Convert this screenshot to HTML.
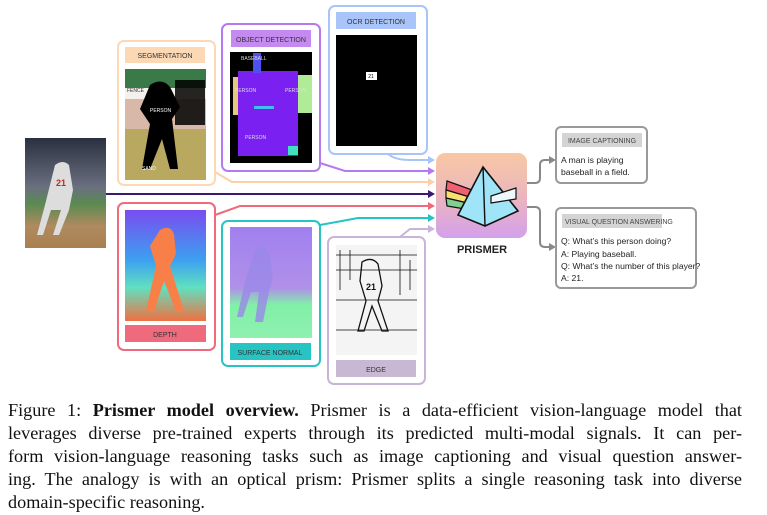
<!DOCTYPE html>
<html><head><meta charset="utf-8"><style>
body{margin:0;width:767px;height:515px;background:#fff;overflow:hidden;position:relative;font-family:"Liberation Sans",sans-serif}
.cap{position:absolute;left:8px;top:399px;width:734px;font-family:"Liberation Serif",serif;font-size:18.2px;line-height:23px;color:#111}
.cap div{text-align:justify;text-align-last:justify;white-space:nowrap}
.cap div.last{text-align-last:left}
</style></head><body>
<svg width="767" height="400" style="position:absolute;left:0;top:0" font-family="Liberation Sans, sans-serif">
<defs>
<linearGradient id="pg" x1="0" y1="0" x2="0" y2="1"><stop offset="0" stop-color="#f8c8a4"/><stop offset="0.55" stop-color="#eab4c0"/><stop offset="1" stop-color="#d4a0ec"/></linearGradient>
<linearGradient id="dg" x1="0" y1="0" x2="0" y2="1"><stop offset="0" stop-color="#7a4cf0"/><stop offset="0.45" stop-color="#3ca0f0"/><stop offset="0.7" stop-color="#60e0c0"/><stop offset="1" stop-color="#f07040"/></linearGradient>
<linearGradient id="ng" x1="0" y1="0" x2="0" y2="1"><stop offset="0" stop-color="#a080f0"/><stop offset="0.55" stop-color="#b090e8"/><stop offset="0.7" stop-color="#80f0a8"/><stop offset="1" stop-color="#90f0b0"/></linearGradient>
<linearGradient id="bg" x1="0" y1="0" x2="0" y2="1"><stop offset="0" stop-color="#2a3040"/><stop offset="0.45" stop-color="#6a7080"/><stop offset="0.6" stop-color="#5a8a50"/><stop offset="0.8" stop-color="#b08a60"/><stop offset="1" stop-color="#a88050"/></linearGradient>
</defs>
<g fill="none" stroke-width="2">
<path d="M388 154 Q395 160 410 160 L428 160" stroke="#a8c4f8"/>
<path d="M320 163 L345 171 L428 171" stroke="#b57af0"/>
<path d="M215 172 L232 182 L428 182" stroke="#fcd0a8"/>
<path d="M106 194 L428 194" stroke="#3b1a6e"/>
<path d="M215 215 L240 206 L428 206" stroke="#f06a7e"/>
<path d="M320 225 L358 218 L428 218" stroke="#28c4c4"/>
<path d="M400 237 L410 229 L428 229" stroke="#c8b4d8"/>
<path d="M527 183 L535 183 Q540 183 540 178 L540 165 Q540 160 545 160 L550 160" stroke="#888"/>
<path d="M527 207 L535 207 Q540 207 540 212 L540 242 Q540 247 545 247 L550 247" stroke="#888"/>
</g>
<g>
<polygon points="428,156 435,160 428,164" fill="#a8c4f8"/>
<polygon points="428,167 435,171 428,175" fill="#b57af0"/>
<polygon points="428,178 435,182 428,186" fill="#fcd0a8"/>
<polygon points="428,190 435,194 428,198" fill="#3b1a6e"/>
<polygon points="428,202 435,206 428,210" fill="#f06a7e"/>
<polygon points="428,214 435,218 428,222" fill="#28c4c4"/>
<polygon points="428,225 435,229 428,233" fill="#c8b4d8"/>
<polygon points="549,156 556,160 549,164" fill="#888"/>
<polygon points="549,243 556,247 549,251" fill="#888"/>
</g>
<rect x="25" y="138" width="81" height="110" fill="url(#bg)"/>
<path d="M55 165 q8-6 14 0 l4 25 l-4 20 l-10 25 l-6 0 l8-25 l-10 0 l-8 25 l-6 0 l8-30 z" fill="#ddd"/>
<text x="56" y="186" font-size="9" font-weight="bold" fill="#c22">21</text>
<rect x="118" y="41" width="97" height="144" rx="6" fill="#fff" stroke="#fcd8b4" stroke-width="2"/>
<rect x="125" y="47" width="80" height="16" fill="#fcd8b4"/>
<text x="165" y="58" font-size="7" text-anchor="middle" fill="#333">SEGMENTATION</text>
<rect x="125" y="69" width="81" height="111" fill="#b8a860"/>
<rect x="125" y="69" width="81" height="30" fill="#3a7a48"/>
<rect x="125" y="88" width="81" height="12" fill="#f4f0ec"/>
<rect x="125" y="99" width="81" height="30" fill="#d8b8a8"/>
<path d="M150 85 q12-8 20 2 l10 20 l-8 12 l6 50 l-8 0 l-8-30 l-12 30 l-8 0 l8-45 l-10-15 z" fill="#000"/>
<path d="M175 80 h30 v45 h-30z" fill="#000" opacity=".85"/>
<text x="150" y="112" font-size="5" fill="#fff">PERSON</text>
<text x="127" y="92" font-size="5" fill="#333">FENCE</text>
<text x="142" y="170" font-size="5" fill="#fff">SAND</text>
<rect x="222" y="24" width="98" height="147" rx="6" fill="#fff" stroke="#b57af0" stroke-width="2"/>
<rect x="231" y="30" width="80" height="17" fill="#c48af0"/>
<text x="271" y="42" font-size="7" text-anchor="middle" fill="#333">OBJECT DETECTION</text>
<rect x="230" y="52" width="82" height="111" fill="#000"/>
<rect x="238" y="71" width="60" height="85" fill="#7a20f0"/>
<rect x="298" y="75" width="14" height="38" fill="#b0ec98"/>
<rect x="233" y="77" width="5" height="38" fill="#e8c878"/>
<rect x="253" y="53" width="8" height="20" fill="#5050f0"/>
<rect x="254" y="106" width="20" height="3" fill="#40c0f0"/>
<rect x="288" y="146" width="10" height="9" fill="#40e0c0"/>
<text x="241" y="60" font-size="5" fill="#ddd">BASEBALL</text>
<text x="235" y="92" font-size="5" fill="#ddd">PERSON</text>
<text x="285" y="92" font-size="5" fill="#ddd">PERSON</text>
<text x="245" y="139" font-size="5" fill="#ddd">PERSON</text>
<rect x="329" y="6" width="98" height="148" rx="6" fill="#fff" stroke="#a8c4f8" stroke-width="2"/>
<rect x="336" y="12" width="80" height="17" fill="#a8c4f8"/>
<text x="376" y="24" font-size="7" text-anchor="middle" fill="#333">OCR DETECTION</text>
<rect x="336" y="35" width="81" height="111" fill="#000"/>
<rect x="366" y="72" width="11" height="8" fill="#fff"/>
<text x="371" y="78" font-size="5" text-anchor="middle">21</text>
<rect x="118" y="203" width="97" height="147" rx="6" fill="#fff" stroke="#f06a7e" stroke-width="2"/>
<rect x="125" y="210" width="81" height="111" fill="url(#dg)"/>
<path d="M160 230 q10-6 14 4 l2 20 l-6 12 l14 45 l-8 0 l-12-30 l-10 30 l-8 0 l10-45 l-6-20 z" fill="#f88048"/>
<rect x="125" y="325" width="81" height="17" fill="#f06a7e"/>
<text x="165" y="337" font-size="7" text-anchor="middle" fill="#333">DEPTH</text>
<rect x="222" y="221" width="98" height="145" rx="6" fill="#fff" stroke="#28c4c4" stroke-width="2"/>
<rect x="230" y="227" width="82" height="111" fill="url(#ng)"/>
<path d="M255 250 q8-6 14 2 l4 25 l-4 15 l-6 30 l-8 0 l4-30 l-8 0 l-8 25 l-6 0 l8-35 z" fill="#9a88e8" opacity=".8"/>
<rect x="230" y="343" width="81" height="17" fill="#28c4c4"/>
<text x="270" y="355" font-size="7" text-anchor="middle" fill="#333">SURFACE NORMAL</text>
<rect x="328" y="237" width="97" height="147" rx="6" fill="#fff" stroke="#c8b4d8" stroke-width="2"/>
<rect x="336" y="245" width="81" height="110" fill="#f4f4f4"/>
<g stroke="#111" stroke-width="0.8" fill="none">
<path d="M336 255 h81 M336 270 h81 M336 300 h81 M336 330 h81 M340 250 v40 M350 250 v30 M400 250 v45 M410 260 v30"/>
<path d="M362 262 q10-6 16 2 l4 22 l-4 15 l10 30 l-6 0 l-10-25 l-8 25 l-6 0 l8-30 l-6-20 z" stroke-width="1.3"/>
</g>
<text x="366" y="290" font-size="9" font-weight="bold" fill="#111">21</text>
<rect x="336" y="360" width="80" height="17" fill="#c8b8d4"/>
<text x="376" y="372" font-size="7" text-anchor="middle" fill="#333">EDGE</text>
<rect x="436" y="153" width="91" height="85" rx="9" fill="url(#pg)"/>
<polygon points="447,181 475,191 473,198 446,190" fill="#f06070" stroke="#111" stroke-width="1.2"/>
<polygon points="446,190 473,198 472,204 446,198" fill="#f8e070" stroke="#111" stroke-width="1.2"/>
<polygon points="446,198 472,204 471,210 447,206" fill="#80d090" stroke="#111" stroke-width="1.2"/>
<polygon points="483,167 458,215 485,226 518,211" fill="#a0e4f8" stroke="#111" stroke-width="1.6"/>
<line x1="483" y1="167" x2="485" y2="226" stroke="#111" stroke-width="1.4"/>
<polygon points="491,196 516,188 516,199 491,203" fill="#eef8fc" stroke="#111" stroke-width="1.2"/>
<text x="482" y="253" font-size="11" font-weight="bold" text-anchor="middle" fill="#222">PRISMER</text>
<rect x="556" y="127" width="91" height="56" rx="5" fill="#fff" stroke="#999" stroke-width="2"/>
<rect x="562" y="133" width="80" height="14" fill="#d4d4d4"/>
<text x="602" y="143" font-size="7" text-anchor="middle" fill="#444">IMAGE CAPTIONING</text>
<text x="561" y="163" font-size="8.6" fill="#222">A man is playing</text>
<text x="561" y="175" font-size="8.6" fill="#222">baseball in a field.</text>
<rect x="556" y="208" width="140" height="80" rx="5" fill="#fff" stroke="#999" stroke-width="2"/>
<rect x="562" y="214" width="100" height="14" fill="#d4d4d4"/>
<text x="565" y="224" font-size="7" fill="#444">VISUAL QUESTION ANSWERING</text>
<text x="561" y="244" font-size="8.6" fill="#222">Q: What’s this person doing?</text>
<text x="561" y="257" font-size="8.6" fill="#222">A: Playing baseball.</text>
<text x="561" y="269" font-size="8.6" fill="#222">Q: What’s the number of this player?</text>
<text x="561" y="281" font-size="8.6" fill="#222">A: 21.</text>
</svg>
<div class="cap">
<div>Figure 1: <b>Prismer model overview.</b> Prismer is a data-efficient vision-language model that</div>
<div>leverages diverse pre-trained experts through its predicted multi-modal signals. It can per-</div>
<div>form vision-language reasoning tasks such as image captioning and visual question answer-</div>
<div>ing. The analogy is with an optical prism: Prismer splits a single reasoning task into diverse</div>
<div class="last">domain-specific reasoning.</div>
</div>
</body></html>
